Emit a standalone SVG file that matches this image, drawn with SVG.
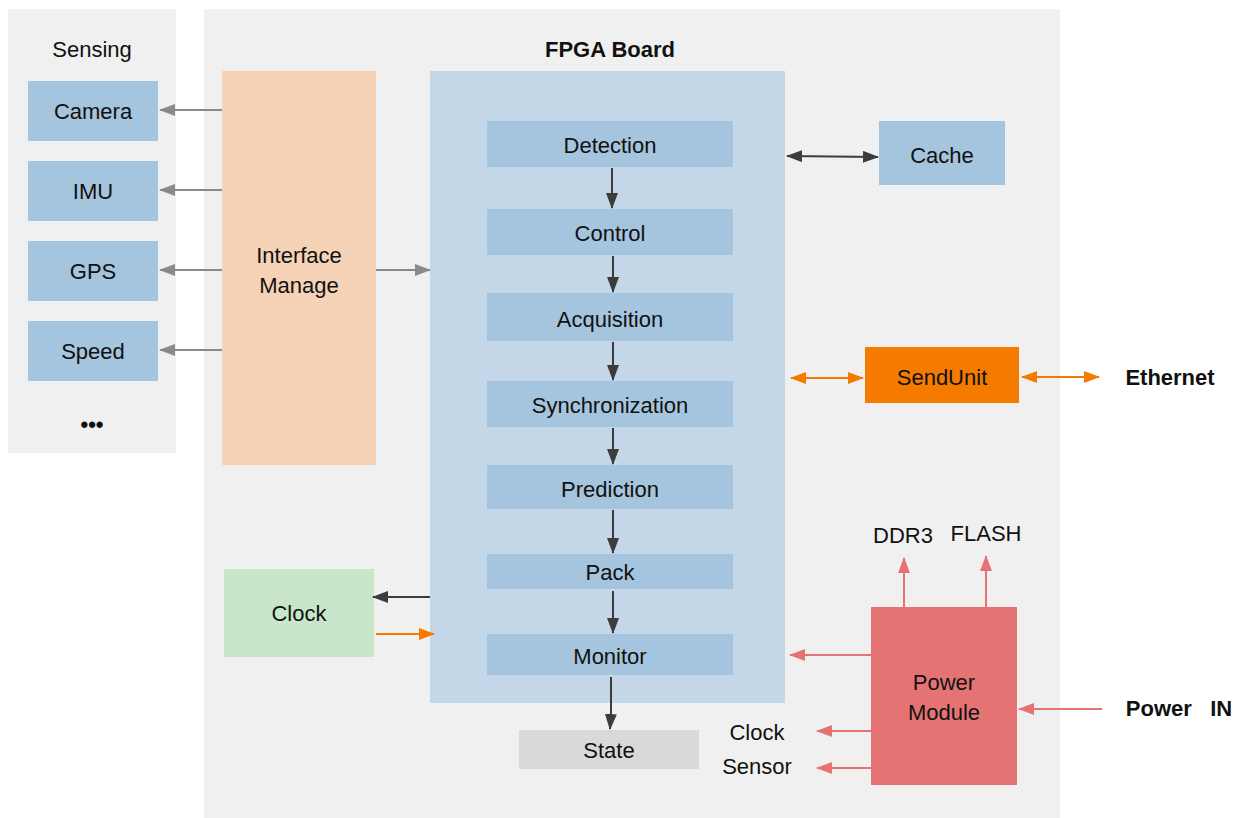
<svg xmlns="http://www.w3.org/2000/svg" width="1244" height="818" viewBox="0 0 1244 818">
<defs>
<style>
text{font-family:"Liberation Sans",Arial,sans-serif;font-size:22px;fill:#111;text-anchor:middle;dominant-baseline:central;white-space:pre}
.b{font-weight:bold}
.panel{fill:#f0f0f0}
.blue{fill:#a5c4dd}
.g{stroke:#8a8a8a;stroke-width:2;fill:none}
.d{stroke:#3c3c3c;stroke-width:2;fill:none}
.o{stroke:#f47b00;stroke-width:2;fill:none}
.r{stroke:#e57373;stroke-width:2;fill:none}
</style>
<marker id="mg" viewBox="0 0 16 12" refX="15" refY="6" markerWidth="16" markerHeight="12" markerUnits="userSpaceOnUse" orient="auto-start-reverse"><path d="M0,0L16,6L0,12z" fill="#8a8a8a"/></marker>
<marker id="md" viewBox="0 0 16 12" refX="15" refY="6" markerWidth="16" markerHeight="12" markerUnits="userSpaceOnUse" orient="auto-start-reverse"><path d="M0,0L16,6L0,12z" fill="#3c3c3c"/></marker>
<marker id="mo" viewBox="0 0 16 12" refX="15" refY="6" markerWidth="16" markerHeight="12" markerUnits="userSpaceOnUse" orient="auto-start-reverse"><path d="M0,0L16,6L0,12z" fill="#f47b00"/></marker>
<marker id="mr" viewBox="0 0 16 12" refX="15" refY="6" markerWidth="16" markerHeight="12" markerUnits="userSpaceOnUse" orient="auto-start-reverse"><path d="M0,0L16,6L0,12z" fill="#e57373"/></marker>
</defs>
<rect width="1244" height="818" fill="#fff"/>
<g id="sensing">
<rect class="panel" x="8" y="9" width="168" height="444"/>
<text x="92" y="49">Sensing</text>
<text x="92" y="424" class="b">•••</text>
</g>
<g id="fpga-board">
<rect class="panel" x="204" y="9" width="856" height="809"/>
<text x="610" y="49" class="b">FPGA Board</text>
</g>
<g id="camera"><rect class="blue" x="28" y="81" width="130" height="60"/><text x="93" y="111">Camera</text></g>
<g id="imu"><rect class="blue" x="28" y="161" width="130" height="60"/><text x="93" y="191">IMU</text></g>
<g id="gps"><rect class="blue" x="28" y="241" width="130" height="60"/><text x="93" y="271">GPS</text></g>
<g id="speed"><rect class="blue" x="28" y="321" width="130" height="60"/><text x="93" y="351">Speed</text></g>
<g id="interface"><rect x="222" y="71" width="154" height="394" fill="#f6d2b6"/><text x="299" y="255">Interface</text><text x="299" y="285">Manage</text></g>
<g id="core"><rect x="430" y="71" width="355" height="632" fill="#c3d7e8"/></g>
<g id="detection"><rect class="blue" x="487" y="121" width="246" height="46"/><text x="610" y="145">Detection</text></g>
<g id="control"><rect class="blue" x="487" y="209" width="246" height="46"/><text x="610" y="233">Control</text></g>
<g id="acquisition"><rect class="blue" x="487" y="293" width="246" height="48"/><text x="610" y="319">Acquisition</text></g>
<g id="synchronization"><rect class="blue" x="487" y="381" width="246" height="46"/><text x="610" y="405">Synchronization</text></g>
<g id="prediction"><rect class="blue" x="487" y="465" width="246" height="44"/><text x="610" y="489">Prediction</text></g>
<g id="pack"><rect class="blue" x="487" y="554" width="246" height="35"/><text x="610" y="572">Pack</text></g>
<g id="monitor"><rect class="blue" x="487" y="634" width="246" height="41"/><text x="610" y="656">Monitor</text></g>
<g id="state"><rect x="519" y="730" width="180" height="39" fill="#d9d9d9"/><text x="609" y="750">State</text></g>
<g id="cache"><rect class="blue" x="879" y="121" width="126" height="64"/><text x="942" y="155">Cache</text></g>
<g id="sendunit"><rect x="865" y="347" width="154" height="56" fill="#f47b00"/><text x="942" y="377">SendUnit</text></g>
<g id="ethernet"><text x="1170" y="377" class="b">Ethernet</text></g>
<g id="clock"><rect x="224" y="569" width="150" height="88" fill="#c8e6c9"/><text x="299" y="613">Clock</text></g>
<g id="power"><rect x="871" y="607" width="146" height="178" fill="#e57373"/><text x="944" y="682">Power</text><text x="944" y="712">Module</text></g>
<g id="power-in"><text x="1179" y="708" class="b">Power   IN</text></g>
<g id="ddr3"><text x="903" y="535">DDR3</text></g>
<g id="flash"><text x="986" y="533">FLASH</text></g>
<g id="clock-sensor"><text x="757" y="732">Clock</text><text x="757" y="766">Sensor</text></g>
<g id="connectors">
<path class="g" marker-end="url(#mg)" d="M222,110H160"/>
<path class="g" marker-end="url(#mg)" d="M222,190H160"/>
<path class="g" marker-end="url(#mg)" d="M222,270H160"/>
<path class="g" marker-end="url(#mg)" d="M222,350H160"/>
<path class="g" marker-end="url(#mg)" d="M376,270H430"/>
<path class="d" marker-end="url(#md)" d="M612,168V208"/>
<path class="d" marker-end="url(#md)" d="M613,256V292"/>
<path class="d" marker-end="url(#md)" d="M613,342V380"/>
<path class="d" marker-end="url(#md)" d="M613,428V464"/>
<path class="d" marker-end="url(#md)" d="M613,510V553"/>
<path class="d" marker-end="url(#md)" d="M613,591V633"/>
<path class="d" marker-end="url(#md)" d="M611,677V712L610,729"/>
<path class="d" marker-start="url(#md)" marker-end="url(#md)" d="M787,156L878,157"/>
<path class="o" marker-start="url(#mo)" marker-end="url(#mo)" d="M791,378H863"/>
<path class="o" marker-start="url(#mo)" marker-end="url(#mo)" d="M1022,377H1099"/>
<path class="d" marker-end="url(#md)" d="M430,597H373"/>
<path class="o" marker-end="url(#mo)" d="M376,634H434"/>
<path class="r" marker-end="url(#mr)" d="M871,655H790"/>
<path class="r" marker-end="url(#mr)" d="M871,731H817"/>
<path class="r" marker-end="url(#mr)" d="M871,768H817"/>
<path class="r" marker-end="url(#mr)" d="M904,607V558"/>
<path class="r" marker-end="url(#mr)" d="M986,607V556"/>
<path class="r" marker-end="url(#mr)" d="M1102,709H1019"/>
</g>
</svg>
